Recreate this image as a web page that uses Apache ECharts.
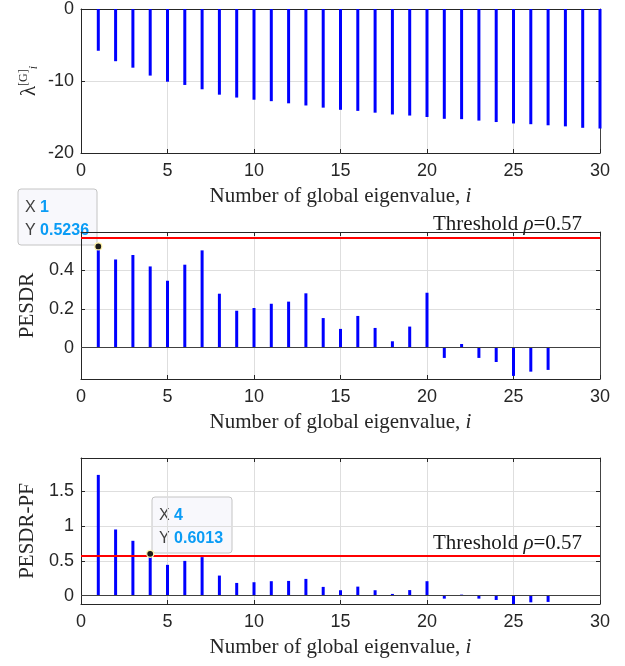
<!DOCTYPE html>
<html><head><meta charset="utf-8">
<script src="https://cdn.jsdelivr.net/npm/echarts@6/dist/echarts.min.js"></script>
<style>html,body{margin:0;padding:0;background:#fff}#c{width:625px;height:666px}</style>
</head><body><div id="c"></div>
<script>
const idx = Array.from({length:30},(_,k)=>k+1);
const lambdaG = [-5.8,-7.25,-8.15,-9.25,-10.1,-10.55,-11.15,-11.9,-12.3,-12.6,-12.8,-13.1,-13.4,-13.7,-14.0,-14.15,-14.4,-14.65,-14.8,-15.0,-15.25,-15.3,-15.5,-15.7,-15.9,-16.0,-16.15,-16.3,-16.5,-16.6];
const pesdr = [0.5236,0.456,0.479,0.42,0.346,0.429,0.503,0.279,0.191,0.205,0.227,0.238,0.281,0.153,0.097,0.164,0.102,0.033,0.109,0.284,-0.053,0.019,-0.053,-0.074,-0.146,-0.124,-0.115,null,null,null];
const pesdrPF = [1.737,0.952,0.789,0.6013,0.443,0.5,0.554,0.289,0.183,0.193,0.208,0.212,0.241,0.126,0.078,0.13,0.078,0.025,0.08,0.208,-0.043,0.015,-0.043,-0.062,-0.12,-0.096,-0.09,null,null,null];
const threshold = 0.57;
const xTicks = [0,5,10,15,20,25,30];
const yTicksTop = [-20,-10,0];
const yTicksMid = [0,0.2,0.4];
const yTicksBot = [0,0.5,1,1.5];
const tip1 = {x:1, y:0.5236};
const tip2 = {x:4, y:0.6013};

const AX = '#262626', GRID = '#dedede', SANS = 'Liberation Sans, Arial, sans-serif', SERIF = 'Liberation Serif, DejaVu Serif, serif';
const NF = 21;
const grids = [
  {left:81,right:25,top:6,height:147},
  {left:81,right:25,top:232,height:147},
  {left:81,right:25,top:458,height:146}
];
const xAxes=[], yAxes=[];
grids.forEach((g,i)=>{
  xAxes.push({type:'value',gridIndex:i,min:0,max:30,interval:5,position:'bottom',
    name:'Number of global eigenvalue, {it|i}',nameLocation:'middle',nameGap:33,
    nameTextStyle:{fontFamily:SERIF,fontSize:NF,color:'#262626',rich:{it:{fontFamily:SERIF,fontStyle:'italic',fontSize:NF,color:'#262626'}}},
    axisLine:{show:true,onZero:false,lineStyle:{color:AX,width:1}},
    axisTick:{show:true,inside:true,length:4,customValues:xTicks,lineStyle:{color:AX}},
    axisLabel:{fontFamily:SANS,fontSize:18,color:'#262626',margin:9,customValues:xTicks},
    splitLine:{show:true,lineStyle:{color:GRID,width:1}}});
  xAxes.push({type:'value',gridIndex:i,min:0,max:30,interval:5,position:'top',
    axisLine:{show:true,onZero:false,lineStyle:{color:AX,width:1}},
    axisTick:{show:true,inside:true,length:4,lineStyle:{color:AX}},
    axisLabel:{show:false},splitLine:{show:false}});
});
const yCfg = [
  {min:-20,max:0,ticks:yTicksTop,name:'{l|λ}{s|[G]}{i|i}',gap:41},
  {min:-0.162,max:0.598,ticks:yTicksMid,name:'PESDR',gap:43},
  {min:-0.12,max:1.98,ticks:yTicksBot,name:'PESDR-PF',gap:43}
];
yCfg.forEach((c,i)=>{
  yAxes.push({type:'value',gridIndex:i,min:c.min,max:c.max,position:'left',
    name:c.name,nameLocation:'middle',nameRotate:90,nameGap:c.gap,nameMoveOverlap:false,
    nameTextStyle:{fontFamily:SERIF,fontSize:NF,color:'#262626',
      rich:{l:{fontFamily:SERIF,fontSize:21,color:'#262626'},s:{fontFamily:SERIF,fontSize:12,color:'#262626',verticalAlign:'top',padding:[0,0,10,0]},i:{fontFamily:SERIF,fontStyle:'italic',fontSize:12,color:'#262626',padding:[9,0,0,0]}}},
    axisLine:{show:true,onZero:false,lineStyle:{color:AX,width:1}},
    axisTick:{show:true,inside:true,length:4,customValues:c.ticks,lineStyle:{color:AX}},
    axisLabel:{fontFamily:SANS,fontSize:18,color:'#262626',margin:7,customValues:c.ticks},
    splitLine:{show:true,lineStyle:{color:GRID,width:1}}});
  yAxes.push({type:'value',gridIndex:i,min:c.min,max:c.max,position:'right',
    axisLine:{show:true,onZero:false,lineStyle:{color:'#444',width:1}},
    axisTick:{show:true,inside:true,length:4,customValues:c.ticks,lineStyle:{color:AX}},
    axisLabel:{show:false,customValues:c.ticks},splitLine:{show:false}});
});
function bars(arr){return arr.map((v,k)=>[idx[k],v]);}
function baseML(){
  return {silent:true,symbol:'none',label:{show:false},
    data:[{yAxis:0,lineStyle:{color:'#404040',width:1.2,type:'solid'}},
          {yAxis:threshold,lineStyle:{color:'#ff0000',width:2,type:'solid'}}]};
}
function dot(t){return {symbol:'circle',symbolSize:7,silent:true,label:{show:false},
  itemStyle:{color:'#1a1a1a',borderColor:'#fff2a8',borderWidth:1.2},data:[{coord:[t.x,t.y]}]};}
const series=[
  {type:'bar',xAxisIndex:0,yAxisIndex:0,barWidth:3,itemStyle:{color:'#0000ff'},data:bars(lambdaG),silent:true},
  {type:'bar',xAxisIndex:2,yAxisIndex:2,barWidth:3,itemStyle:{color:'#0000ff'},data:bars(pesdr),silent:true,markLine:baseML(),markPoint:dot(tip1),z:3},
  {type:'bar',xAxisIndex:4,yAxisIndex:4,barWidth:3,itemStyle:{color:'#0000ff'},data:bars(pesdrPF),silent:true,markLine:baseML(),markPoint:dot(tip2),z:3}
];
function tipBox(x,y,w,h,t){
  return {type:'group',z:100,children:[
    {type:'rect',shape:{x:x,y:y,width:w,height:h,r:3},style:{fill:'#f8f8fc',stroke:'#c4c4c4',lineWidth:1}},
    {type:'text',x:x+7,y:y+7,style:{text:'{k|X} {v|'+t.x+'}\n{k|Y} {v|'+t.y+'}',fontFamily:SANS,fontSize:16,lineHeight:23,
      rich:{k:{fontFamily:SANS,fontSize:16,fill:'#404040',lineHeight:23},v:{fontFamily:SANS,fontSize:16,fontWeight:'bold',fill:'#0a9cf5',lineHeight:23}}}}
  ]};
}
function thrText(x,y){
  return {type:'text',x:x,y:y,z:50,style:{text:'Threshold {r|ρ}=0.57',fontFamily:SERIF,fontSize:NF,fill:'#1a1a1a',textVerticalAlign:'middle',
    rich:{r:{fontFamily:SERIF,fontStyle:'italic',fontSize:NF,fill:'#1a1a1a'}}}};
}
const option={animation:false,backgroundColor:'#fff',grid:grids.map(g=>Object.assign({show:false},g)),
  xAxis:xAxes,yAxis:yAxes,series:series,
  graphic:[thrText(433,224),thrText(433,543),tipBox(18,189,79,56,tip1),tipBox(152,497,80,56,tip2)]};
const ch=echarts.init(document.getElementById('c'),null,{renderer:'canvas'});
ch.setOption(option);
</script></body></html>
